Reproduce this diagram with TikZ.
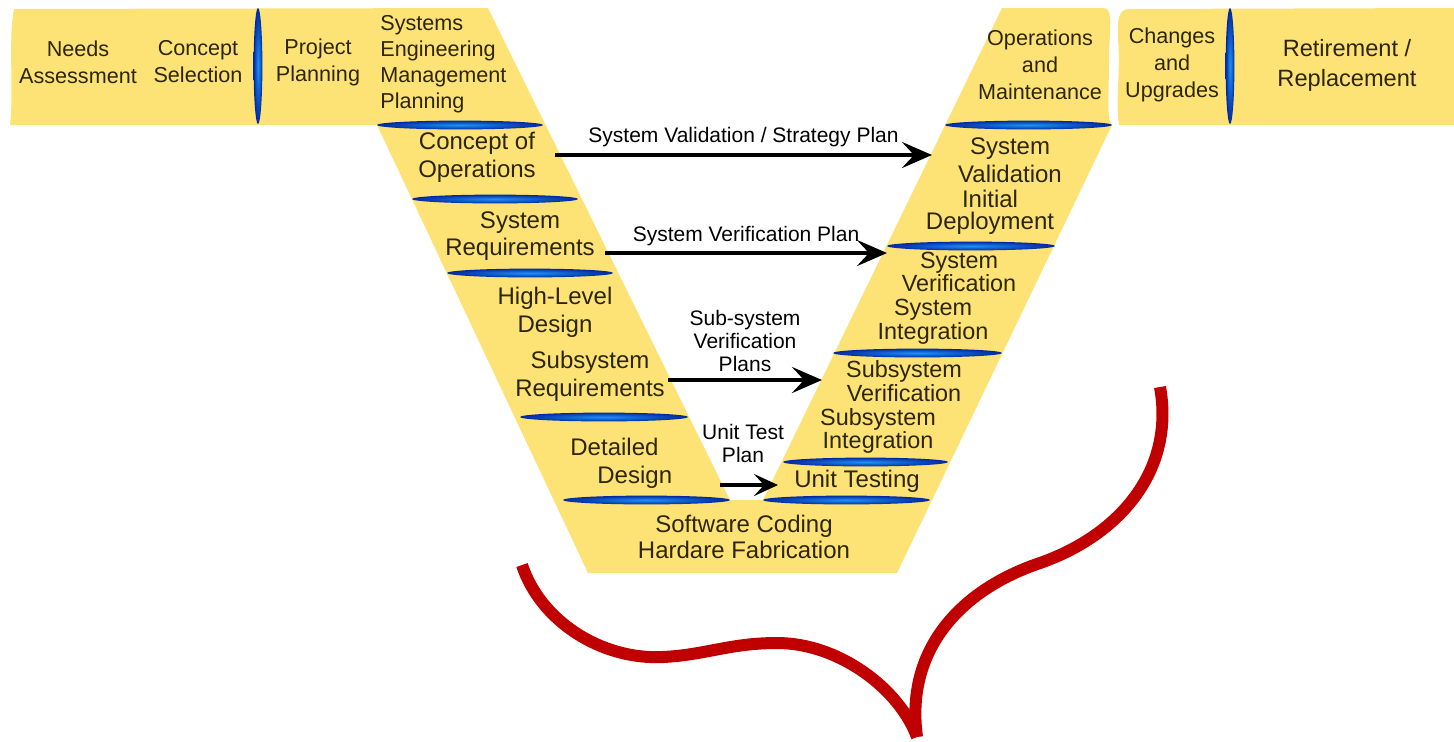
\documentclass[tikz,border=0pt]{standalone}
\usepackage{fontspec}
\setmainfont{Liberation Sans}
\usetikzlibrary{arrows.meta}

\definecolor{vyellow}{RGB}{253,226,118}
\definecolor{vtext}{RGB}{45,38,6}
\definecolor{lensdark}{RGB}{0,40,160}
\definecolor{lenslight}{RGB}{30,145,245}
\definecolor{curvered}{RGB}{192,0,0}

\tikzset{
  phase/.style={text=vtext, align=center, inner sep=0pt, font=\fontsize{10.8}{13.5}\selectfont},
  armphase/.style={phase, font=\fontsize{12}{13.8}\selectfont},
  squeezed/.style={font=\fontsize{11.7}{10.2}\selectfont},
  planlabel/.style={text=black, align=center, inner sep=0pt, font=\fontsize{10.5}{11.5}\selectfont},
  plan/.style={draw=black, line width=2.2pt, -{Stealth[length=15pt,width=13pt,inset=6pt]}},
  lens/.style={shading=radial, inner color=lenslight, outer color=lensdark},
}

\begin{document}
\begin{tikzpicture}[x=0.5pt,y=-0.5pt]
    \newcommand{\hlens}[3]{\shade[lens] ({(#1+#2)/2},#3) ellipse ({(#2-#1)*0.25pt} and 2.2pt);}
    \newcommand{\vlens}[1]{\shade[lens] (#1,66) ellipse (2.2pt and 29pt);}
    \useasboundingbox (0,0) rectangle (1454,741);
    % the V band
    \fill[vyellow] (14,9) -- (488,8) -- (730,500) -- (763,500) -- (1002,8) -- (1104,8)
        .. controls (1114,9) and (1109,30) .. (1109,60)
        .. controls (1109,95) and (1106,118) .. (1112,125)
        -- (897,573) -- (588,573) -- (377,125) -- (10,125)
        .. controls (14,90) and (8,40) .. (14,9) -- cycle;
    \fill[vyellow] (1128,9) -- (1454,8) -- (1454,125) -- (1119,125)
        .. controls (1115,100) and (1121,70) .. (1118,40)
        .. controls (1117,18) and (1119,10) .. (1128,9) -- cycle;
    % separators
    \vlens{258}
    \vlens{1230}
    \hlens{377}{543}{125}
    \hlens{412}{578}{199}
    \hlens{447}{613}{273}
    \hlens{520}{688}{417}
    \hlens{563}{730}{500}
    \hlens{945}{1112}{125}
    \hlens{887}{1055}{246}
    \hlens{833}{1002}{353}
    \hlens{783}{948}{462}
    \hlens{763}{930}{500}
    % phases
    \node[phase] (needs) at (78,62) {Needs\\Assessment};
    \node[phase] (selection) at (198,62) {Concept\\Selection};
    \node[phase] (projplan) at (318,62) {Project\\Planning};
    \node[phase, align=left, anchor=west, font=\fontsize{10.8}{13}\selectfont] (semp) at (380,64) {Systems\\Engineering\\Management\\Planning};
    \node[armphase] (conops) at (477,157) {Concept of\\Operations};
    \node[armphase] (sysreq) at (520,236) {System\\Requirements};
    \node[armphase] (hld) at (555,312) {High-Level\\Design};
    \node[armphase] (subreq) at (590,376) {Subsystem\\Requirements};
    \node[armphase, align=left, anchor=west] (detail) at (570,463) {Detailed\\\hspace*{13.5pt}Design};
    \node[armphase, font=\fontsize{12}{13}\selectfont] (coding) at (744,537) {Software Coding\\Hardare Fabrication};
    \node[armphase] (unittest) at (857,481) {Unit Testing};
    \node[armphase, squeezed] (subint) at (878,431) {Subsystem\\Integration};
    \node[armphase, squeezed] (subver) at (904,381) {Subsystem\\Verification};
    \node[armphase, squeezed] (sysint) at (933,322) {System\\Integration};
    \node[armphase, squeezed] (sysver) at (959,272) {System\\Verification};
    \node[armphase, font=\fontsize{12}{11}\selectfont] (deploy) at (990,212) {Initial\\Deployment};
    \node[armphase] (sysval) at (1010,160) {System\\Validation};
    \node[phase] (opsmaint) at (1040,65) {Operations\\and\\Maintenance};
    \node[phase] (changes) at (1172,65) {Changes\\and\\Upgrades};
    \node[phase, font=\fontsize{11.8}{15}\selectfont] (retire) at (1347,65) {Retirement /\\Replacement};
    % plans
    \coordinate (valfrom) at (555,155);
    \coordinate (valto) at (932,155);
    \coordinate (verfrom) at (605,253);
    \coordinate (verto) at (887,253);
    \coordinate (subfrom) at (668,380);
    \coordinate (subto) at (822,380);
    \coordinate (unitfrom) at (720,485);
    \coordinate (unitto) at (778,485);
    \draw[plan] (valfrom) -- node[planlabel, above=3pt] {System Validation / Strategy Plan} (valto);
    \draw[plan] (verfrom) -- node[planlabel, above=2.5pt] {System Verification Plan} (verto);
    \draw[plan] (subfrom) -- node[planlabel, above=3pt] {Sub-system\\Verification\\Plans} (subto);
    \draw[plan, -{Stealth[length=12pt,width=11pt,inset=5pt]}] (unitfrom) -- node[planlabel, above=10pt, xshift=-3pt] {Unit Test\\Plan} (unitto);
    % red swoosh
    \draw[curvered, line width=6pt, line join=round]
        (522,565) .. controls (540,620) and (600,660) .. (663,657)
        .. controls (705,655) and (730,643) .. (777,643)
        .. controls (840,643) and (900,690) .. (917,737);
    \draw[curvered, line width=6pt, line join=round]
        (917,737) .. controls (905,650) and (960,590) .. (1040,563)
        .. controls (1120,535) and (1175,470) .. (1160,387);
\end{tikzpicture}
\end{document}
